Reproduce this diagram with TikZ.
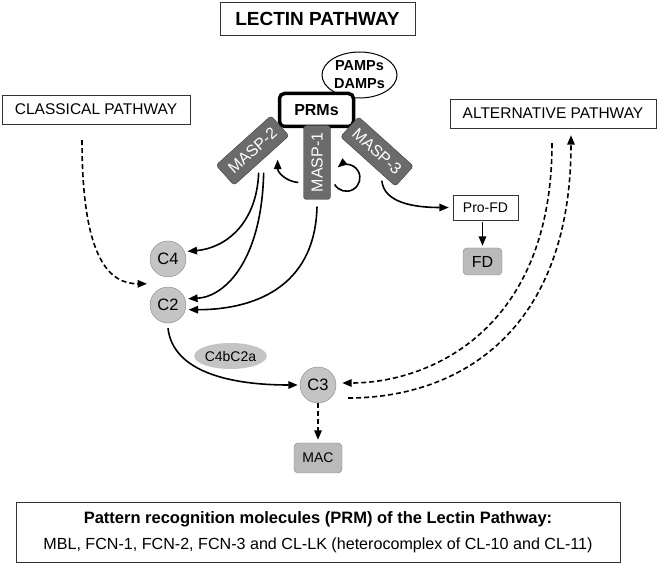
\documentclass[tikz,border=0pt]{standalone}
\usepackage{fontspec}
\setmainfont{Liberation Sans}
\usetikzlibrary{arrows.meta,shapes.geometric}

\definecolor{maspfill}{HTML}{6B6B6B}
\definecolor{maspline}{HTML}{3F3F3F}
\definecolor{cfill}{HTML}{C4C4C4}
\definecolor{cline}{HTML}{858585}

\tikzset{
    pathbox/.style = {draw = black!80, fill = white, inner sep = 0, minimum height = 29, font = \fontsize{15.5}{18}\selectfont},
    prmbox/.style = {draw = black, line width = 3.5, rounded corners = 5, fill = white, inner sep = 0, minimum width = 74, minimum height = 33, font = \bfseries\fontsize{16}{19}\selectfont},
    maspbox/.style = {draw = maspline, fill = maspfill, text = white, rounded corners = 3, inner sep = 0, minimum width = 74, minimum height = 27, font = \fontsize{16}{19}\selectfont},
    cnode/.style = {circle, draw = cline, fill = cfill, inner sep = 0, minimum size = 36, font = \fontsize{16.5}{19}\selectfont},
    graybox/.style = {draw = cline, fill = cfill!95!black, rounded corners = 4, inner sep = 0},
    arr/.style = {->, line width = 1.6},
    darr/.style = {->, line width = 1.6, dash pattern = on 5pt off 3pt}
}

\begin{document}
\begin{tikzpicture}[x = 1pt, y = -1pt, >={Triangle[length = 9.5pt, width = 7.5pt]}]
    \useasboundingbox (0,0) rectangle (657,564);

    % boxes on top
    \node[pathbox, minimum width = 195, minimum height = 33, font = \bfseries\fontsize{19}{22}\selectfont] (lectin) at (317.5,18.5) {LECTIN PATHWAY};
    \node[pathbox, minimum width = 188] (classical) at (96,109.5) {CLASSICAL PATHWAY};
    \node[pathbox, minimum width = 206] (alternative) at (553,113.5) {ALTERNATIVE PATHWAY};

    % recognition complex
    \node[ellipse, draw, line width = 1, inner sep = 0, minimum width = 75, minimum height = 46, align = center, font = \bfseries\fontsize{14.5}{18}\selectfont] (pamps) at (359.5,75) {PAMPs\\DAMPs};
    \node[prmbox] (prms) at (316.5,110) {PRMs};
    \node[maspbox, rotate = 42] (masp2) at (252.5,150.5) {MASP-2};
    \node[maspbox, rotate = -42] (masp3) at (377,151.5) {MASP-3};
    \node[maspbox, rotate = 90] (masp1) at (317,162.5) {MASP-1};

    % substrates
    \node[cnode] (C4) at (168,259) {C4};
    \node[cnode] (C2) at (168,305) {C2};
    \node[cnode] (C3) at (318,385) {C3};
    \node[ellipse, fill = cfill, inner sep = 0, minimum width = 67, minimum height = 26, font = \fontsize{14}{16}\selectfont] (convertase) at (230.5,356) {C4bC2a};
    \node[graybox, minimum width = 48, minimum height = 30, font = \fontsize{14}{16}\selectfont] (MAC) at (318,458) {MAC};
    \node[pathbox, minimum width = 65, minimum height = 25, font = \fontsize{14}{17}\selectfont] (profd) at (485.5,207.5) {Pro-FD};
    \node[graybox, minimum width = 39, minimum height = 27, font = \fontsize{16}{18}\selectfont] (fd) at (482.5,261.5) {FD};

    % legend
    \node[draw = black!80, inner sep = 0, minimum width = 604, minimum height = 60, align = center, font = \fontsize{16.1}{26}\selectfont] (legend) at (318,532)
        {{\bfseries\fontsize{16.5}{26}\selectfont Pattern recognition molecules (PRM) of the Lectin Pathway:}\\MBL, FCN-1, FCN-2, FCN-3 and CL-LK (heterocomplex of CL-10 and CL-11)};

    % MASP cleavages
    \draw[arr] ([xshift = -3pt, yshift = -12pt]masp2.south) .. controls +(-2,52) and +(37,-3) .. ([xshift = 3pt]C4.25);
    \draw[arr] ([xshift = 2pt, yshift = -12pt]masp2.south) .. controls +(-2,88) and +(37,-2) .. ([xshift = 3pt]C2.20);
    \draw[arr] ([yshift = -7pt]masp1.west) .. controls +(-2,83) and +(62,0) .. ([xshift = 3pt]C2.-15);
    \draw[arr] ([xshift = -5pt, yshift = -20pt]masp1.north) .. controls +(-12,-1) and +(0,13) .. ([xshift = 16pt, yshift = 1pt]masp2.south);
    \draw[arr] ([xshift = 4pt, yshift = -22pt]masp1.south) arc[start angle = 150, end angle = -130, radius = 13.5];
    \draw[arr] ([xshift = 14pt, yshift = -19pt]masp3.south) .. controls +(2,22) and +(-35,0) .. ([xshift = -4pt]profd.west);
    \draw[arr] ([yshift = -2pt]profd.south -| fd.north) -- ([yshift = 2pt]fd.north);

    % pathways
    \draw[darr] ([xshift = -14pt, yshift = -16pt]classical.south) .. controls +(0,120) and +(-37,0) .. ([xshift = -21pt, yshift = 3pt]C2.north);
    \draw[arr] ([yshift = -5pt]C2.south) .. controls +(5,44) and +(-67,0) .. ([xshift = -2pt]C3.west);
    \draw[darr] ([xshift = -1pt, yshift = -15pt]alternative.south) .. controls +(0,187) and +(87,0) .. ([xshift = 6pt, yshift = 2pt]C3.east);
    \draw[darr] ([xshift = 12pt, yshift = -13pt]C3.east) .. controls +(112,0) and +(0,195) .. ([xshift = 18pt, yshift = -7pt]alternative.south);
    \draw[darr] (C3.south) -- ([yshift = 3pt]MAC.north);
\end{tikzpicture}
\end{document}
